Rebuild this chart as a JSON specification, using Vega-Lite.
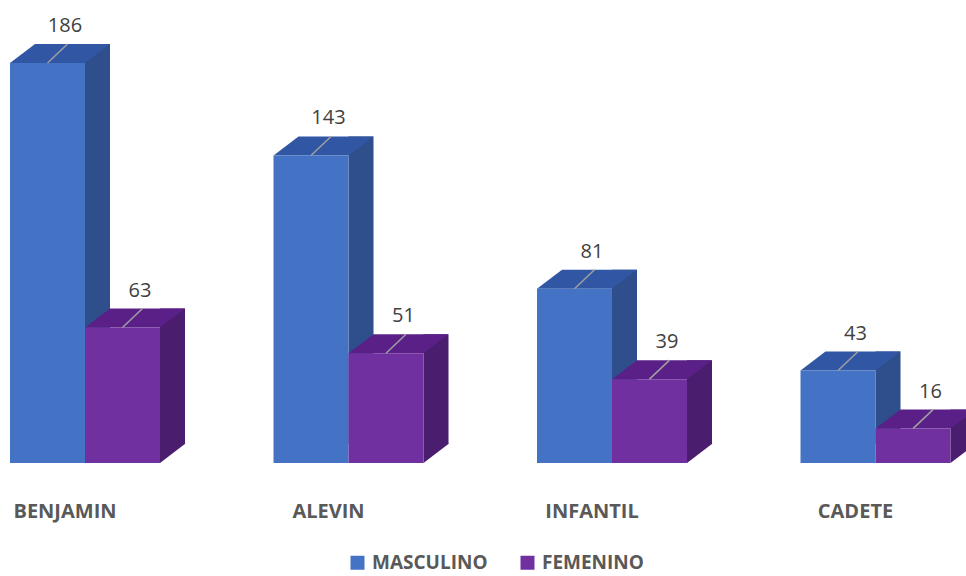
{
  "$schema": "https://vega.github.io/schema/vega-lite/v6.json",
  "width": 966,
  "height": 400,
  "autosize": "none",
  "padding": {"left": 0, "top": 63, "right": 0, "bottom": 113},
  "background": "white",
  "config": {"view": {"stroke": null}, "font": "Open Sans"},
  "data": {"values": [
    {"categoria": "BENJAMIN", "sexo": "MASCULINO", "valor": 186},
    {"categoria": "BENJAMIN", "sexo": "FEMENINO", "valor": 63},
    {"categoria": "ALEVIN", "sexo": "MASCULINO", "valor": 143},
    {"categoria": "ALEVIN", "sexo": "FEMENINO", "valor": 51},
    {"categoria": "INFANTIL", "sexo": "MASCULINO", "valor": 81},
    {"categoria": "INFANTIL", "sexo": "FEMENINO", "valor": 39},
    {"categoria": "CADETE", "sexo": "MASCULINO", "valor": 43},
    {"categoria": "CADETE", "sexo": "FEMENINO", "valor": 16}
  ]},
  "encoding": {
    "x": {
      "field": "categoria", "type": "nominal",
      "sort": ["BENJAMIN", "ALEVIN", "INFANTIL", "CADETE"],
      "scale": {"type": "band", "range": [-66.75, 987.25], "paddingInner": 0, "paddingOuter": 0},
      "axis": {"title": null, "domain": false, "ticks": false, "labelAngle": 0, "labelFont": "Open Sans", "labelFontWeight": "bold", "labelFontSize": 20, "labelColor": "#595959", "labelBaseline": "alphabetic", "labelPadding": 54}
    },
    "y": {"field": "valor", "type": "quantitative", "scale": {"domain": [0, 186], "nice": false, "zero": true}, "axis": null}
  },
  "layer": [
    {
      "transform": [{"filter": "datum.sexo == 'MASCULINO'"}],
      "mark": {"type": "bar", "width": 25, "xOffset": 32.5, "yOffset": -19, "color": "#2E4E8C"}
    },
    {
      "transform": [{"filter": "datum.sexo == 'MASCULINO'"}],
      "mark": {"type": "point", "shape": "M-55,0 L20,0 L45,-19 L-30,-19 Z", "size": 4, "filled": true, "opacity": 1, "strokeWidth": 0, "color": "#3156A4"}
    },
    {
      "transform": [{"filter": "datum.sexo == 'MASCULINO'"}],
      "mark": {"type": "bar", "width": 75, "xOffset": -17.5},
      "encoding": {
        "color": {
          "field": "sexo", "type": "nominal",
          "scale": {"domain": ["MASCULINO", "FEMENINO"], "range": ["#4472C4", "#7030A0"]},
          "legend": {"title": null, "orient": "none", "direction": "horizontal", "legendX": 348, "legendY": 490, "symbolType": "square", "symbolSize": 196, "symbolStrokeWidth": 0, "labelFont": "Open Sans", "labelFontSize": 19, "labelFontWeight": "bold", "labelColor": "#595959", "columnPadding": 30, "labelOffset": 5, "padding": 0}
        }
      }
    },
    {
      "transform": [{"filter": "datum.sexo == 'FEMENINO'"}],
      "mark": {"type": "bar", "width": 25, "xOffset": 107.5, "yOffset": -19, "color": "#4A1D6E"}
    },
    {
      "transform": [{"filter": "datum.sexo == 'FEMENINO'"}],
      "mark": {"type": "point", "shape": "M95,0 L95,-19.5 L120.5,-19.5 Z", "size": 4, "filled": true, "opacity": 1, "strokeWidth": 0, "color": "#4A1D6E"},
      "encoding": {"y": {"datum": 0, "type": "quantitative"}}
    },
    {
      "transform": [{"filter": "datum.sexo == 'FEMENINO'"}],
      "mark": {"type": "point", "shape": "M20,0 L95,0 L120,-19 L45,-19 Z", "size": 4, "filled": true, "opacity": 1, "strokeWidth": 0, "color": "#5A2088"}
    },
    {
      "transform": [{"filter": "datum.sexo == 'FEMENINO'"}],
      "mark": {"type": "bar", "width": 75, "xOffset": 57.5},
      "encoding": {"color": {"field": "sexo", "type": "nominal"}}
    },
    {
      "transform": [{"filter": "datum.sexo == 'MASCULINO'"}],
      "mark": {"type": "point", "shape": "M-17.5,0 L2.5,-19", "size": 4, "filled": false, "opacity": 1, "strokeWidth": 1.5, "color": "#A0A0A0"}
    },
    {
      "transform": [{"filter": "datum.sexo == 'FEMENINO'"}],
      "mark": {"type": "point", "shape": "M57.5,0 L77.5,-19", "size": 4, "filled": false, "opacity": 1, "strokeWidth": 1.5, "color": "#A0A0A0"}
    },
    {
      "transform": [{"filter": "datum.sexo == 'MASCULINO'"}],
      "mark": {"type": "text", "dy": -31, "baseline": "alphabetic", "fontSize": 20, "color": "#404040", "font": "Open Sans"},
      "encoding": {"text": {"field": "valor", "type": "quantitative"}}
    },
    {
      "transform": [{"filter": "datum.sexo == 'FEMENINO'"}],
      "mark": {"type": "text", "dx": 75, "dy": -31, "baseline": "alphabetic", "fontSize": 20, "color": "#404040", "font": "Open Sans"},
      "encoding": {"text": {"field": "valor", "type": "quantitative"}}
    }
  ]
}
